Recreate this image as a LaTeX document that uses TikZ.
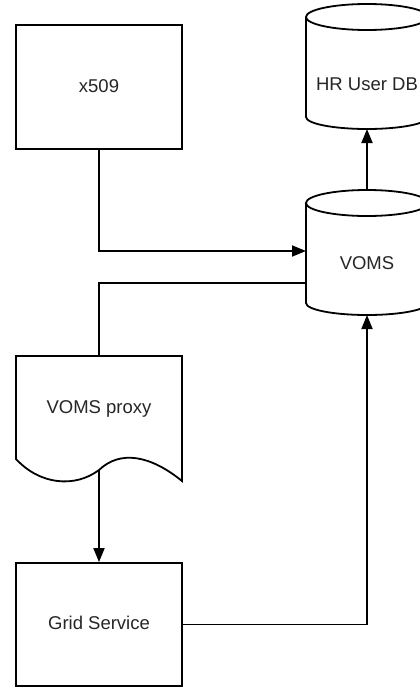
\documentclass[tikz,border=0pt]{standalone}
\usepackage{fontspec}
\setmainfont{Liberation Sans}
\usetikzlibrary{arrows.meta}
\begin{document}
\begin{tikzpicture}[x=1pt,y=-1pt,
  line width=1.8pt,
  lbl/.style={font=\fontsize{18.5}{21}\selectfont, text=black!85, inner sep=0pt, anchor=base},
  boxshape/.style={draw, rectangle, minimum width=166pt, inner sep=0pt},
  arr/.style={-{Triangle[length=14pt,width=11pt]}},
  cyl/.style={draw, fill=white}]
\useasboundingbox (0,0) rectangle (420,688);
\clip (0,0) rectangle (420,688);
\fill[white] (0,0) rectangle (420,688);

% x509 box
\node[boxshape, minimum height=124pt] (x509) at (99,87) {};
\node[lbl] (x509t) at (99,92) {x509};

% HR User DB cylinder
\draw[cyl] (306,17) -- (306,117) arc[start angle=180, end angle=360, x radius=61, y radius=-12] -- (428,17)
  arc[start angle=0, end angle=180, x radius=61, y radius=-13] -- cycle;
\draw (306,17) arc[start angle=180, end angle=360, x radius=61, y radius=-13];
\node[lbl] (hr) at (367,90) {HR User DB};
\coordinate (hr-bot) at (367,129);

% VOMS cylinder
\draw[cyl] (306,203) -- (306,303) arc[start angle=180, end angle=360, x radius=61, y radius=-12] -- (428,203)
  arc[start angle=0, end angle=180, x radius=61, y radius=-13] -- cycle;
\draw (306,203) arc[start angle=180, end angle=360, x radius=61, y radius=-13];
\node[lbl] (voms) at (367,269) {VOMS};
\coordinate (voms-top) at (367,190);
\coordinate (voms-bot) at (367,315);
\coordinate (voms-w1) at (306,251);
\coordinate (voms-w2) at (306,283);

% VOMS proxy document
\draw (16,356) -- (182,356) -- (182,481)
  .. controls (150,455) and (120,450) .. (99,470)
  .. controls (75,488) and (40,485) .. (16,459) -- cycle;
\node[lbl] (proxy) at (99,413) {VOMS proxy};
\coordinate (proxy-top) at (99,356);
\coordinate (proxy-bot) at (99,470);

% Grid Service box
\node[boxshape, minimum height=123pt] (grid) at (99,624.5) {};
\node[lbl] (gridt) at (99,629) {Grid Service};

% connectors
\draw[arr] (x509.south) |- (voms-w1);
\draw (voms-w2) -| (proxy-top);
\draw[arr] (proxy-bot) -- (grid.north);
\draw[arr] (grid.east) -| (voms-bot);
\draw[arr] (voms-top) -- (hr-bot);
\end{tikzpicture}
\end{document}
